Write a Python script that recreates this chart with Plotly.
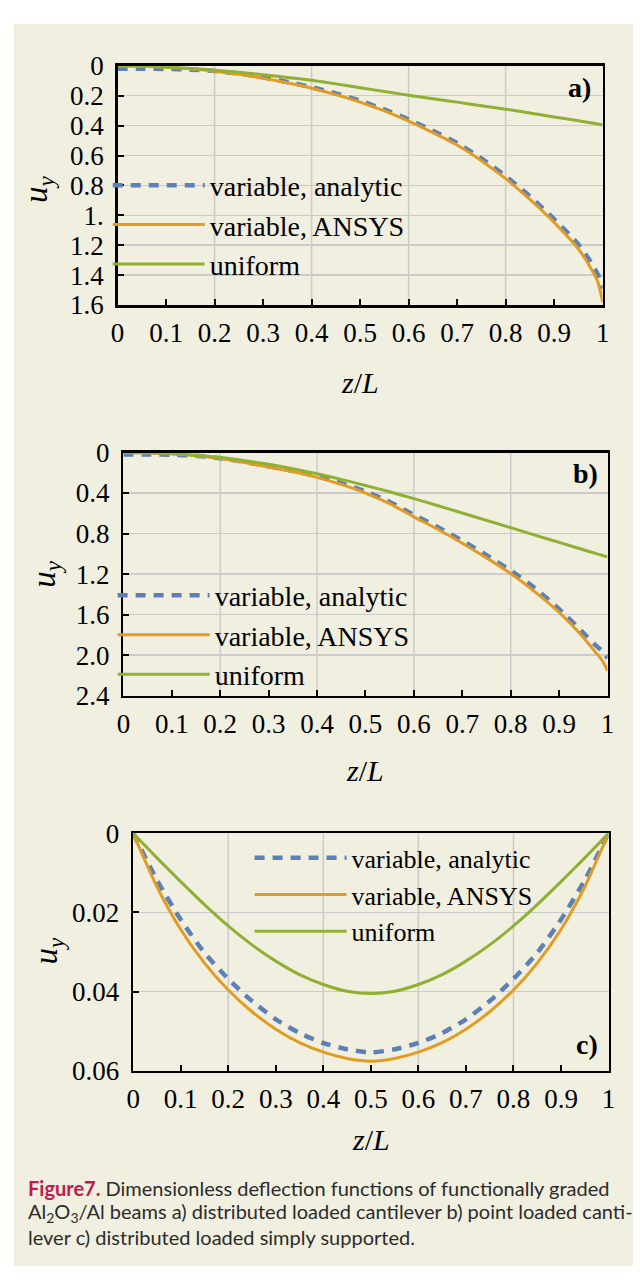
import plotly.graph_objects as go

W, H = 640, 1281
BEIGE = "#F1EFE0"
C_BLUE = "#5E81B5"
C_ORANGE = "#E19C24"
C_GREEN = "#8FB032"
GRID = "#CBCBCB"
SERIF = "Liberation Serif"

series_names = ["variable, analytic", "variable, ANSYS", "uniform"]

# ---- data ----
z_ab = [0, 0.05, 0.1, 0.15, 0.2, 0.25, 0.3, 0.35, 0.4, 0.45, 0.5, 0.55,
        0.6, 0.65, 0.7, 0.75, 0.8, 0.85, 0.9, 0.95, 0.975, 0.99, 1.0]

a_analytic = [0.02, 0.02, 0.021, 0.026, 0.035, 0.052, 0.077, 0.108, 0.143, 0.185, 0.234,
              0.292, 0.359, 0.435, 0.517, 0.62, 0.738, 0.873, 1.025, 1.195, 1.31, 1.395, 1.49]
a_ansys = [0, 0.002, 0.009, 0.02, 0.036, 0.057, 0.083, 0.114, 0.15, 0.193, 0.243,
           0.302, 0.37, 0.447, 0.53, 0.635, 0.755, 0.893, 1.047, 1.225, 1.35, 1.445, 1.58]
a_uniform = [0, 0.002, 0.009, 0.018, 0.03, 0.044, 0.06, 0.078, 0.097, 0.121, 0.147,
             0.172, 0.197, 0.22, 0.243, 0.267, 0.29, 0.316, 0.342, 0.368, 0.381, 0.389, 0.395]

b_analytic = [0.02, 0.02, 0.022, 0.033, 0.057, 0.093, 0.136, 0.181, 0.234, 0.302, 0.385,
              0.488, 0.615, 0.738, 0.87, 1.013, 1.165, 1.34, 1.545, 1.78, 1.9, 1.965, 2.03]
b_ansys = [0, 0.003, 0.013, 0.032, 0.06, 0.098, 0.143, 0.19, 0.245, 0.315, 0.4,
           0.505, 0.635, 0.76, 0.895, 1.04, 1.195, 1.375, 1.578, 1.825, 1.97, 2.06, 2.156]
b_uniform = [0, 0.003, 0.012, 0.028, 0.05, 0.08, 0.115, 0.16, 0.21, 0.265, 0.325,
             0.388, 0.455, 0.525, 0.597, 0.67, 0.742, 0.815, 0.887, 0.96, 0.995, 1.017, 1.031]

z_c = [0, 0.05, 0.1, 0.15, 0.2, 0.25, 0.3, 0.35, 0.4, 0.45, 0.5,
       0.55, 0.6, 0.65, 0.7, 0.75, 0.8, 0.85, 0.9, 0.95, 1.0]
c_analytic = [0, 0.0118, 0.0218, 0.0302, 0.0368, 0.0424, 0.0470, 0.0505, 0.0530, 0.0546, 0.0554,
              0.0546, 0.0530, 0.0505, 0.0470, 0.0424, 0.0368, 0.0302, 0.0218, 0.0118, 0]
c_ansys = [0, 0.0135, 0.0243, 0.0328, 0.0396, 0.0451, 0.0495, 0.0529, 0.0553, 0.0569, 0.0576,
           0.0569, 0.0553, 0.0529, 0.0495, 0.0451, 0.0396, 0.0328, 0.0243, 0.0135, 0]
c_uniform = [0, 0.0062, 0.0122, 0.0180, 0.0234, 0.0282, 0.0323, 0.0357, 0.0382, 0.0399, 0.0405,
             0.0399, 0.0382, 0.0357, 0.0323, 0.0282, 0.0234, 0.0180, 0.0122, 0.0062, 0]

x_tickvals = [0, 0.1, 0.2, 0.3, 0.4, 0.5, 0.6, 0.7, 0.8, 0.9, 1.0]
x_ticktext = ["0", "0.1", "0.2", "0.3", "0.4", "0.5", "0.6", "0.7", "0.8", "0.9", "1"]
x_grid = [0.2, 0.4, 0.6, 0.8]

ya_tickvals = [0, 0.2, 0.4, 0.6, 0.8, 1.0, 1.2, 1.4, 1.6]
ya_ticktext = ["0", "0.2", "0.4", "0.6", "0.8", "1.", "1.2", "1.4", "1.6"]
yb_tickvals = [0, 0.4, 0.8, 1.2, 1.6, 2.0, 2.4]
yb_ticktext = ["0", "0.4", "0.8", "1.2", "1.6", "2.0", "2.4"]
yc_tickvals = [0, 0.02, 0.04, 0.06]
yc_ticktext = ["0", "0.02", "0.04", "0.06"]

caption_lines = [
    "<span style='color:#C4194B'><b>Figure7.</b></span> Dimensionless deflection functions of functionally graded",
    "Al<sub>2</sub>O<sub>3</sub>/Al beams a) distributed loaded cantilever b) point loaded canti-",
    "lever c) distributed loaded simply supported.",
]

# ---- layout geometry (pixels) ----
panels = [
    dict(tag="a", xa="x", ya="y", px=(113, 609), py=(52, 297), yr=[1.6, 0],
         ytv=ya_tickvals, ytt=ya_ticktext, z=z_ab, vals=[a_analytic, a_ansys, a_uniform],
         legend="legend", leg=(103, 149), legfs=28, lab=(585, 74), uy=(33, 178), zl=(361, 376)),
    dict(tag="b", xa="x2", ya="y2", px=(119, 614), py=(448, 697), yr=[2.4, 0],
         ytv=yb_tickvals, ytt=yb_ticktext, z=z_ab, vals=[b_analytic, b_ansys, b_uniform],
         legend="legend2", leg=(108, 569), legfs=28, lab=(591, 469), uy=(40, 572), zl=(366, 774)),
    dict(tag="c", xa="x3", ya="y3", px=(129, 615), py=(838, 1081), yr=[0.06, 0],
         ytv=yc_tickvals, ytt=yc_ticktext, z=z_c, vals=[c_analytic, c_ansys, c_uniform],
         legend="legend3", leg=(248, 839), legfs=26, lab=(593, 1054), uy=(43, 958), zl=(372, 1151)),
]

styles = [
    dict(color=C_BLUE, width=4.5, dash="10px,8px"),
    dict(color=C_ORANGE, width=3),
    dict(color=C_GREEN, width=3),
]

fig = go.Figure()
layout = dict(
    width=W, height=H, margin=dict(l=0, r=0, t=0, b=0),
    paper_bgcolor="white", plot_bgcolor="rgba(0,0,0,0)",
    shapes=[], annotations=[], hovermode=False,
)


def fx(p):
    return p / W


def fy(p):
    return 1 - p / H


layout["shapes"].append(dict(type="rect", xref="paper", yref="paper",
                             x0=fx(7), x1=1, y0=0, y1=fy(9),
                             fillcolor=BEIGE, line=dict(width=0), layer="below"))

for p in panels:
    sfx = p["xa"][1:]
    for name, vals, st in zip(series_names, p["vals"], styles):
        fig.add_trace(go.Scatter(
            x=p["z"], y=vals, mode="lines", name=name,
            line=dict(shape="spline", smoothing=0.6, **st),
            xaxis=p["xa"], yaxis=p["ya"], legend=p["legend"],
        ))
    layout["xaxis" + sfx] = dict(
        domain=[fx(p["px"][0]), fx(p["px"][1])], anchor=p["ya"], range=[0, 1],
        tickmode="array", tickvals=x_tickvals, ticktext=x_ticktext,
        ticks="inside", ticklen=6, tickwidth=2, tickcolor="black",
        showline=True, linewidth=2.5, linecolor="black", mirror=True,
        showgrid=False, zeroline=False, ticklabelstandoff=2,
        tickfont=dict(family=SERIF, size=27, color="black"),
    )
    layout["yaxis" + sfx] = dict(
        domain=[fy(p["py"][1]), fy(p["py"][0])], anchor=p["xa"], range=p["yr"],
        tickmode="array", tickvals=p["ytv"], ticktext=p["ytt"],
        ticks="inside", ticklen=6, tickwidth=2, tickcolor="black",
        showline=True, linewidth=2.5, linecolor="black", mirror=True,
        showgrid=True, gridcolor=GRID, gridwidth=1.5, zeroline=False,
        ticklabelstandoff=6,
        tickfont=dict(family=SERIF, size=27, color="black"),
    )
    for gx in x_grid:
        layout["shapes"].append(dict(type="line", xref=p["xa"], yref=p["ya"] + " domain",
                                     x0=gx, x1=gx, y0=0, y1=1, layer="below",
                                     line=dict(color=GRID, width=1.5)))
    layout[p["legend"]] = dict(
        x=fx(p["leg"][0]), y=fy(p["leg"][1]), xanchor="left", yanchor="top",
        bgcolor="rgba(0,0,0,0)", borderwidth=0, itemwidth=92, tracegroupgap=0,
        font=dict(family=SERIF, size=p["legfs"], color="black"),
    )
    layout["annotations"].append(dict(
        text="<b>%s)</b>" % p["tag"], x=fx(p["lab"][0]), y=fy(p["lab"][1]),
        xref="paper", yref="paper", showarrow=False, xanchor="center", yanchor="middle",
        font=dict(family=SERIF, size=28, color="black")))
    layout["annotations"].append(dict(
        text="<i>u</i><sub><i>y</i></sub>", x=fx(p["uy"][0]), y=fy(p["uy"][1]),
        xref="paper", yref="paper", showarrow=False, textangle=-90,
        xanchor="center", yanchor="middle",
        font=dict(family=SERIF, size=33, color="black")))
    layout["annotations"].append(dict(
        text="<i>z</i>/<i>L</i>", x=fx(p["zl"][0]), y=fy(p["zl"][1]),
        xref="paper", yref="paper", showarrow=False,
        xanchor="center", yanchor="middle",
        font=dict(family=SERIF, size=30, color="black")))

for line, yc in zip(caption_lines, [1201, 1226, 1251]):
    layout["annotations"].append(dict(
        text=line, x=fx(19), y=fy(yc), xref="paper", yref="paper", showarrow=False,
        xanchor="left", yanchor="middle", align="left",
        font=dict(family="Lato", size=20, color="#2B2B2B")))

fig.update_layout(**layout)
fig.write_html(
    "out.html",
    config={"displayModeBar": False, "staticPlot": True},
    post_script="document.body.style.margin='0px';document.body.style.overflow='hidden';"
                "document.documentElement.style.overflow='hidden';",
)
